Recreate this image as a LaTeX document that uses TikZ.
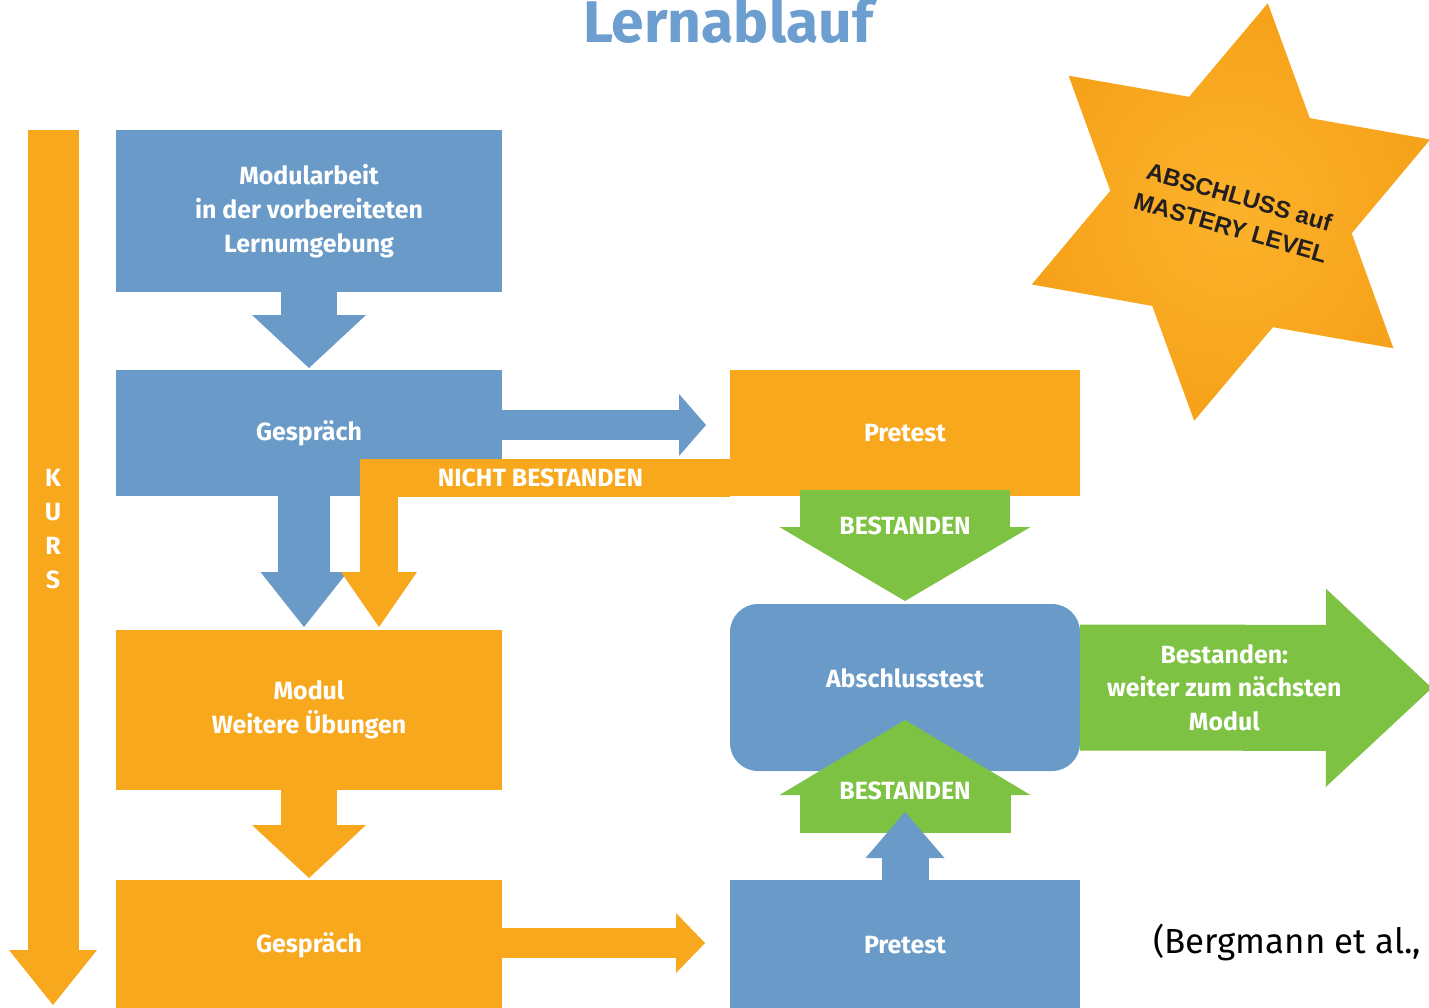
\documentclass[tikz,border=0pt]{standalone}
\usepackage{xcolor}
\usepackage{fontspec}
\setmainfont{Fira Sans}
\newfontfamily\citefont{Fira Sans}
\newfontfamily\starfont{Liberation Sans}
\usepackage{tikz}
\usetikzlibrary{arrows.meta,shapes,positioning}

\definecolor{kblue}{RGB}{106,155,200}
\definecolor{korange}{RGB}{248,168,29}
\definecolor{kgreen}{RGB}{125,194,66}
\definecolor{ttlblue}{RGB}{108,158,208}
\definecolor{starlight}{RGB}{251,178,42}
\definecolor{stardark}{RGB}{246,162,26}
\definecolor{starink}{RGB}{35,31,32}

\begin{document}
\begin{tikzpicture}[
  x = 1bp, y = -1bp,
  box/.style = {rectangle, inner sep=0pt, outer sep=0pt, align=center,
                text=white, font=\bfseries\fontsize{25}{34}\selectfont,
                minimum width=386bp},
  bluebox/.style = {box, fill=kblue},
  orangebox/.style = {box, fill=korange},
  fat/.style n args = {3}{line width=#1, line join=miter,
                -{Triangle[length=#2, width=#3, line width=0pt]}},
  lbl/.style = {text=white, align=center,
                font=\bfseries\fontsize{25}{34}\selectfont},
  startxt/.style = {text=starink, align=center,
                font=\starfont\bfseries\fontsize{24}{32}\selectfont}
]
\useasboundingbox (0,0) rectangle (1429,1007);

\node[font=\bfseries\fontsize{59}{60}\selectfont, text=ttlblue, anchor=base]
  (titel) at (728,42) {Lernablauf};

\node[bluebox, minimum height=162bp] (modul) at (309,211)
  {Modularbeit\\in der vorbereiteten\\Lernumgebung};
\node[bluebox, minimum height=126bp, below=78bp of modul] (gespr1) {Gespräch};
\node[orangebox, minimum height=160bp, below=134bp of gespr1] (uebung)
  {Modul\\Weitere Übungen};
\node[orangebox, minimum height=130bp, below=90bp of uebung] (gespr2) {Gespräch};

\node[orangebox, minimum width=350bp, minimum height=126bp,
  right=228bp of gespr1] (pre1) {Pretest};
\node[bluebox, rounded corners=28bp, minimum width=350bp, minimum height=167bp,
  text depth=18bp, below=108bp of pre1] (final) {Abschlusstest};
\node[bluebox, minimum width=350bp, minimum height=130bp,
  right=228bp of gespr2] (pre2) {Pretest};

\node[star, star points=6, star point ratio=1.73, minimum size=424bp,
  inner sep=0pt, outer sep=0pt, shape border rotate=-10,
  inner color=starlight, outer color=stardark] (stern) at (1231,212) {};
\node[startxt, rotate=-16] (mastery) at ([xshift=4bp]stern.center)
  {ABSCHLUSS auf\\MASTERY LEVEL};

\coordinate (kursA) at (53,130);
\coordinate (kursB) at (53,1005);
\coordinate (weiter) at (1432,688);

\draw[fat={51bp}{55bp}{88bp}, draw=korange] (kursA) -- (kursB)
  node[lbl, pos=0.456] {K\\U\\R\\S};

\draw[fat={56bp}{53bp}{114bp}, draw=kblue] (modul.south) -- ([yshift=2bp]gespr1.north);
\draw[fat={30bp}{27bp}{62bp}, draw=kblue] ([yshift=8bp]gespr1.east)
  -- ([xshift=-24bp,yshift=8bp]pre1.west);
\draw[fat={52bp}{55bp}{87bp}, draw=kblue] ([xshift=-5bp]gespr1.south)
  -- ([xshift=-5bp,yshift=3bp]uebung.north);
\draw[fat={38bp}{55bp}{76bp}, draw=korange] ([yshift=-45bp]pre1.west)
  -| ([xshift=70bp,yshift=3bp]uebung.north)
  node[lbl, pos=0.27] {NICHT BESTANDEN};
\draw[fat={56bp}{53bp}{114bp}, draw=korange] (uebung.south) -- ([yshift=2bp]gespr2.north);
\draw[fat={30bp}{29bp}{60bp}, draw=korange] ([yshift=2bp]gespr2.east)
  -- ([xshift=-25bp,yshift=2bp]pre2.west);

\draw[fat={210bp}{74bp}{251bp}, draw=kgreen] ([yshift=6bp]pre1.south)
  -- ([yshift=3bp]final.north) node[lbl, pos=0.32] {BESTANDEN};
\draw[fat={211bp}{75bp}{251bp}, draw=kgreen] ([yshift=47bp]pre2.north)
  -- ([yshift=51bp]final.south) node[lbl, pos=0.37] {BESTANDEN};
\draw[fat={47bp}{46bp}{79bp}, draw=kblue] (pre2.north) -- ([yshift=-41bp]final.south);
\draw[fat={126bp}{106bp}{198bp}, draw=kgreen] (final.east) -- (weiter)
  node[lbl, pos=0.41] {Bestanden:\\weiter zum nächsten\\Modul};

\node[font=\citefont\fontsize{35}{40}\selectfont, anchor=base west, inner sep=0pt]
  (quelle) at (1153,953) {(Bergmann et al.,};
\end{tikzpicture}
\end{document}
